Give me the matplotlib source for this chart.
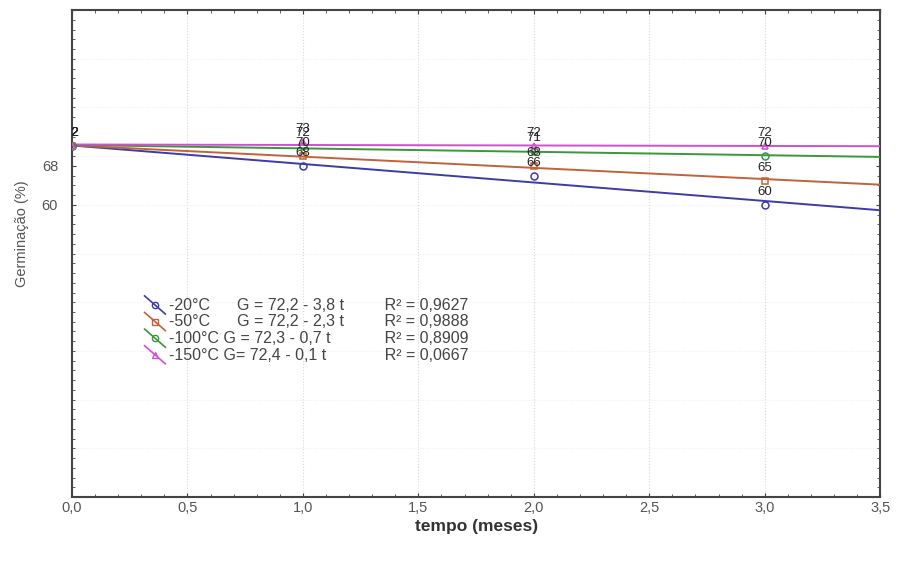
import numpy as np
import matplotlib
matplotlib.use("Agg")
import matplotlib.pyplot as plt
from matplotlib.lines import Line2D
from matplotlib.legend_handler import HandlerBase
from matplotlib.ticker import MultipleLocator, FixedLocator, FuncFormatter

plt.rcParams['font.family'] = ['Liberation Sans', 'DejaVu Sans']

# data
tempo = [0, 1, 2, 3]
temps = ['-20°C', '-50°C', '-100°C', '-150°C']
germ = [
    [72, 68, 66, 60],
    [72, 70, 68, 65],
    [72, 72, 71, 70],
    [72, 73, 72, 72],
]
intercepts = [72.2, 72.2, 72.3, 72.4]
slopes = [-3.8, -2.3, -0.7, -0.1]
labels = [
    '-20°C      G = 72,2 - 3,8 t         R² = 0,9627',
    '-50°C      G = 72,2 - 2,3 t         R² = 0,9888',
    '-100°C G = 72,3 - 0,7 t            R² = 0,8909',
    '-150°C G= 72,4 - 0,1 t             R² = 0,0667',
]
colors = ['#3c3ca8', '#c4603c', '#3c963c', '#d050d0']
markers = ['o', 's', 'o', '^']
yticks = [60, 68]


class DiagHandler(HandlerBase):
    # statistica-style legend key: slanted line with marker in the middle
    def create_artists(self, legend, orig, xdescent, ydescent, width, height, fontsize, trans):
        x0, x1 = -xdescent, -xdescent + width
        y0, y1 = height + 2, -ydescent - 3
        ln = Line2D([x0, x1], [y0, y1], color=orig.get_color(), lw=orig.get_linewidth())
        ln.set_transform(trans)
        mk = Line2D([(x0 + x1) / 2], [(y0 + y1) / 2], marker=orig.get_marker(), ls='none',
                    mfc='none', mec=orig.get_color(), ms=4.5, mew=1)
        mk.set_transform(trans)
        return [ln, mk]


fig = plt.figure(figsize=(9, 5.61), dpi=100)
ax = fig.add_axes([0.08, 0.114, 0.898, 0.868])

xfit = np.array([0, 3.5])
handles = []
for i in range(len(temps)):
    yfit = intercepts[i] + slopes[i] * xfit
    ax.plot(xfit, yfit, color=colors[i], lw=1.4, zorder=3)
    ax.plot(tempo, germ[i], ls='none', marker=markers[i], mfc='none', mec=colors[i],
            ms=5, mew=1.1, zorder=4)
    for t, g in zip(tempo, germ[i]):
        ax.annotate(str(g), (t, g), xytext=(0, 5), textcoords='offset points',
                    ha='center', va='bottom', fontsize=9.5, color='#222222',
                    annotation_clip=True, clip_on=True, zorder=5)
    handles.append(Line2D([], [], color=colors[i], lw=1.2, marker=markers[i]))

ax.set_xlim(0, 3.5)
ax.set_ylim(0, 100)
ax.xaxis.set_major_locator(MultipleLocator(0.5))
ax.xaxis.set_minor_locator(MultipleLocator(0.1))
ax.xaxis.set_major_formatter(FuncFormatter(lambda v, p: f'{v:.1f}'.replace('.', ',')))
ax.yaxis.set_major_locator(FixedLocator(yticks))
ax.yaxis.set_minor_locator(MultipleLocator(2))

ax.tick_params(which='both', direction='in', top=True, right=True, colors='#444444',
               labelcolor='#555555', labelsize=10.5)
ax.tick_params(which='major', length=3)
ax.tick_params(which='minor', length=2)
ax.tick_params(axis='y', which='major', pad=10)
ax.tick_params(axis='x', which='major', pad=2.5)
for s in ax.spines.values():
    s.set_color('#444444')
    s.set_linewidth(1.5)

ax.grid(True, which='major', axis='x', color='#d8d8d8', ls=':', lw=0.8)
for yy in range(10, 100, 10):
    ax.axhline(yy, color='#eeeeee', ls=':', lw=0.8, zorder=0)

ax.set_xlabel('tempo (meses)', fontsize=12.5, fontweight='bold', color='#333333', labelpad=3)
ax.set_ylabel('Germinação (%)', fontsize=10.5, color='#555555')
ax.yaxis.set_label_coords(-0.053, 0.54)

leg = ax.legend(handles, labels, handler_map={Line2D: DiagHandler()}, loc='upper left',
                bbox_to_anchor=(0.076, 0.432), frameon=False, fontsize=11.5,
                handlelength=1.3, handletextpad=0.2, labelspacing=0.1, borderpad=0.2)
for txt in leg.get_texts():
    txt.set_color('#444444')

plt.savefig('out.png', dpi=100)
